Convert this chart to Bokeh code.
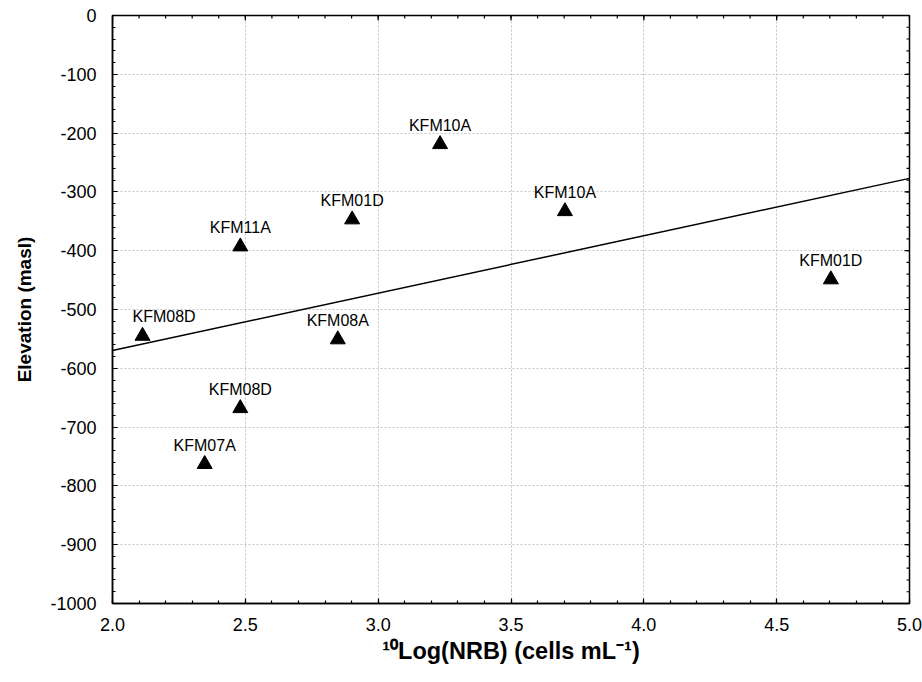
import numpy as np
from bokeh.plotting import figure
from bokeh.models import ColumnDataSource, Range1d, FixedTicker, PrintfTickFormatter
from bokeh.embed import file_html
from bokeh.resources import INLINE
from bokeh.core.properties import value

# Borehole samples: log10 of NRB counts vs sampling elevation
boreholes = ["KFM08D", "KFM11A", "KFM01D", "KFM10A", "KFM10A",
             "KFM01D", "KFM08A", "KFM08D", "KFM07A"]
log_nrb = [2.113, 2.481, 2.902, 3.233, 3.703, 4.704, 2.848, 2.481, 2.347]
elevation = [-545, -393, -347, -219, -333, -449, -551, -668, -763]
# the label next to the left frame edge is pushed inwards
label_align = ["left", "center", "center", "center", "center",
               "center", "center", "center", "center"]

x_ticks = [2.0, 2.5, 3.0, 3.5, 4.0, 4.5, 5.0]
y_ticks = list(range(-1000, 1, 100))
x_minor = [round(2.0 + 0.1 * i, 2) for i in range(31)]
y_minor = list(range(-1000, 1, 20))

FONT = "Liberation Sans"
X0, X1 = 2.0, 5.0
Y0, Y1 = -1000, 0

p = figure(width=922, height=682, output_backend="svg", toolbar_location=None,
           x_range=Range1d(X0, X1), y_range=Range1d(Y0, Y1),
           min_border_left=112, min_border_right=13, min_border_top=15,
           min_border_bottom=79, background_fill_color="white",
           border_fill_color="white")

p.outline_line_color = "black"
p.outline_line_width = 1.5

# dashed grid
for g, t in ((p.xgrid, x_ticks), (p.ygrid, y_ticks)):
    g.ticker = FixedTicker(ticks=t)
    g.grid_line_color = "#c4c4c4"
    g.grid_line_dash = "2 2"
    g.grid_line_width = 1

def style_axis(ax, ticks, minor, fmt):
    ax.ticker = FixedTicker(ticks=ticks, minor_ticks=minor)
    ax.formatter = PrintfTickFormatter(format=fmt)
    ax.axis_line_color = "black"
    ax.axis_line_width = 1.5
    ax.major_tick_in = 5
    ax.major_tick_out = 0
    ax.minor_tick_in = 3
    ax.minor_tick_out = 0
    ax.major_tick_line_color = "black"
    ax.minor_tick_line_color = "black"
    ax.major_tick_line_width = 1.2
    ax.minor_tick_line_width = 1.2
    ax.major_label_text_font = FONT
    ax.major_label_text_color = "black"
    ax.major_label_text_font_size = "18px"

xa = p.xaxis[0]
style_axis(xa, x_ticks, x_minor, "%.1f")
xa.major_label_standoff = 14
xa.axis_label = "\u00b9\u2070Log(NRB) (cells mL\u207b\u00b9)"
xa.axis_label_text_font = FONT
xa.axis_label_text_font_style = "bold"
xa.axis_label_text_font_size = "23.5px"
xa.axis_label_text_color = "black"
xa.axis_label_standoff = 4

ya = p.yaxis[0]
style_axis(ya, y_ticks, y_minor, "%d")
ya.major_label_standoff = 16
ya.axis_label = "Elevation (masl)"
ya.axis_label_text_font = FONT
ya.axis_label_text_font_style = "bold"
ya.axis_label_text_font_size = "19px"
ya.axis_label_text_color = "black"
ya.axis_label_standoff = 12

# inward ticks on the top and right frame edges (clipped to the plot area)
p.scatter(x_minor, [Y1] * len(x_minor), marker="dash", size=6, angle=np.pi / 2,
          line_color="black", line_width=1.2)
p.scatter(x_ticks, [Y1] * len(x_ticks), marker="dash", size=10, angle=np.pi / 2,
          line_color="black", line_width=1.2)
p.scatter([X1] * len(y_minor), y_minor, marker="dash", size=6,
          line_color="black", line_width=1.2)
p.scatter([X1] * len(y_ticks), y_ticks, marker="dash", size=10,
          line_color="black", line_width=1.2)

# least-squares trend line
slope, intercept = np.polyfit(log_nrb, elevation, 1)
fit_x = [X0, X1]
fit_y = [slope * v + intercept for v in fit_x]
p.line(fit_x, fit_y, line_color="black", line_width=1.5)

label_dx = [-10 if a == "left" else 0 for a in label_align]
src = ColumnDataSource(dict(x=log_nrb, y=elevation, name=boreholes,
                            align=label_align, dx=label_dx))
p.scatter("x", "y", source=src, marker="triangle", size=15,
          fill_color="black", line_color="black")
p.text("x", "y", text="name", source=src, text_font=value(FONT),
       text_font_size="16px", text_color="black", text_align="align",
       text_baseline="alphabetic", x_offset="dx", y_offset=-19)

open("out.html", "w").write(file_html(p, INLINE))
